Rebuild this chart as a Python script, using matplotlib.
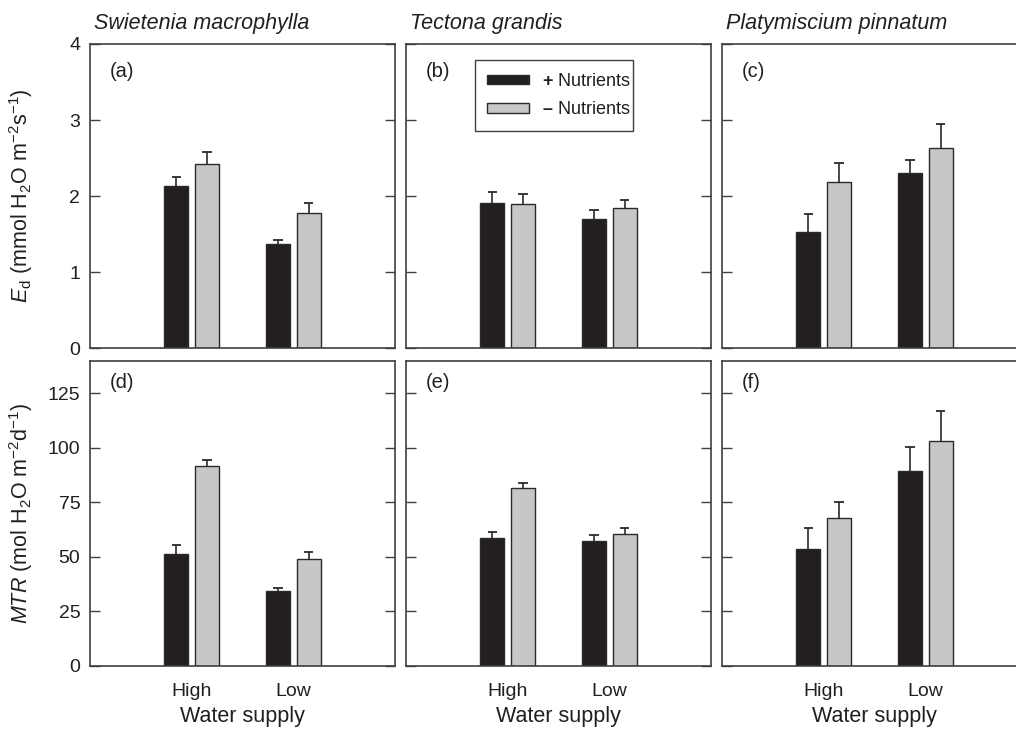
import matplotlib
matplotlib.use("Agg")
import matplotlib.pyplot as plt
from matplotlib.patches import Patch, Rectangle
import numpy as np

plt.rcParams['font.family'] = ['Liberation Sans', 'DejaVu Sans']
plt.rcParams['mathtext.fontset'] = 'custom'
plt.rcParams['mathtext.rm'] = 'Liberation Sans'
plt.rcParams['mathtext.it'] = 'Liberation Sans:italic'
plt.rcParams['mathtext.bf'] = 'Liberation Sans:bold'

species = ["Swietenia macrophylla", "Tectona grandis", "Platymiscium pinnatum"]
water = ["High", "Low"]
panel_letters = [["(a)", "(b)", "(c)"], ["(d)", "(e)", "(f)"]]

# E_d (mmol H2O m-2 s-1): [High, Low]
ed_plus = [[2.13, 1.37], [1.91, 1.70], [1.53, 2.31]]
ed_plus_err = [[0.12, 0.05], [0.15, 0.12], [0.23, 0.17]]
ed_minus = [[2.42, 1.78], [1.90, 1.84], [2.19, 2.63]]
ed_minus_err = [[0.16, 0.13], [0.13, 0.11], [0.25, 0.32]]

# MTR (mol H2O m-2 d-1): [High, Low]
mtr_plus = [[51.3, 34.2], [58.5, 57.5], [53.5, 89.5]]
mtr_plus_err = [[4.2, 1.7], [3.0, 2.5], [10.0, 11.0]]
mtr_minus = [[91.5, 49.0], [81.5, 60.5], [68.0, 103.0]]
mtr_minus_err = [[2.8, 3.4], [2.5, 3.0], [7.0, 14.0]]

ed_ticks = [0, 1, 2, 3, 4]
mtr_ticks = [0, 25, 50, 75, 100, 125]

legend_labels = ["$\\mathbf{+}$ Nutrients", "$\\mathbf{\u2013}$ Nutrients"]

BLACK = "#231f20"
GRAY = "#c6c7c9"
EDGE = "#2a2a2a"
SPINE = "#404040"
TXT = "#231f20"

W, H = 1016, 739
fig = plt.figure(figsize=(W / 100, H / 100), dpi=100)

lefts = [90, 406, 722]
pw = 305
rows = [(44, 348.3), (360.7, 666)]

x = np.arange(1, len(water) + 1)
bw = 0.236
off = 0.151
cap = 0.045


def upper_err(ax, xs, vals, errs):
    xs = np.asarray(xs, float)
    vals = np.asarray(vals, float)
    tops = vals + np.asarray(errs, float)
    ax.vlines(xs, vals, tops, colors=EDGE, linewidth=1.2, zorder=1)
    ax.hlines(tops, xs - cap, xs + cap, colors=EDGE, linewidth=1.3, zorder=1)


axes = []
for r, (ytop, ybot) in enumerate(rows):
    for c in range(3):
        ax = fig.add_axes([lefts[c] / W, 1 - ybot / H, pw / W, (ybot - ytop) / H])
        axes.append(ax)
        if r == 0:
            pv, pe, mv, me = ed_plus[c], ed_plus_err[c], ed_minus[c], ed_minus_err[c]
            ylim, yt = (0, 4), ed_ticks
        else:
            pv, pe, mv, me = mtr_plus[c], mtr_plus_err[c], mtr_minus[c], mtr_minus_err[c]
            ylim, yt = (0, 140), mtr_ticks
        ax.bar(x - off, pv, bw, color=BLACK, edgecolor=EDGE, linewidth=1.0, zorder=2)
        ax.bar(x + off, mv, bw, color=GRAY, edgecolor=EDGE, linewidth=1.0, zorder=2)
        upper_err(ax, x - off, pv, pe)
        upper_err(ax, x + off, mv, me)
        ax.set_xlim(0, 3)
        ax.set_ylim(*ylim)
        ax.set_yticks(yt)
        ax.tick_params(axis='y', direction='in', length=7, width=1.0, color=SPINE,
                       left=True, right=True, labelsize=14, labelcolor=TXT, pad=7)
        if c != 0:
            ax.tick_params(axis='y', labelleft=False)
        if r == 1:
            ax.set_xticks(x)
            ax.set_xticklabels(water)
            ax.tick_params(axis='x', length=0, labelsize=14, labelcolor=TXT, pad=12)
            ax.text(0.5, -0.165, "Water supply", transform=ax.transAxes, ha='center',
                    va='center', fontsize=15.5, color=TXT)
        else:
            ax.set_xticks([])
            ax.text(0.013, 1 + 15 / 304, species[c], transform=ax.transAxes, ha='left',
                    va='baseline', fontsize=15.5, style='italic', color=TXT)
        for s in ax.spines.values():
            s.set_color(SPINE)
            s.set_linewidth(1.2)
        ly = 0.909 if r == 0 else 0.928
        ax.text(0.066, ly, panel_letters[r][c], transform=ax.transAxes, ha='left',
                va='center', fontsize=14.5, color=TXT)

# legend in panel (b)
axb = axes[1]
bx0, bx1 = (475 - 406) / pw, (633 - 406) / pw
by1, by0 = (348.3 - 60) / 304.3, (348.3 - 131) / 304.3
axb.add_patch(Rectangle((bx0, by0), bx1 - bx0, by1 - by0, transform=axb.transAxes,
                        facecolor='white', edgecolor=SPINE, linewidth=1.0, zorder=5))
handles = [Patch(facecolor=BLACK, edgecolor=EDGE, linewidth=1.0),
           Patch(facecolor=GRAY, edgecolor=EDGE, linewidth=1.0)]
leg = axb.legend(handles, legend_labels, loc='center left',
                 bbox_to_anchor=((487 - 406) / pw, (by0 + by1) / 2),
                 borderaxespad=0, borderpad=0, fontsize=13, frameon=False,
                 handlelength=2.35, handleheight=0.45,
                 handletextpad=0.7, labelspacing=0.62)
leg.set_zorder(6)
for t in leg.get_texts():
    t.set_color(TXT)

fig.text(21 / W, 1 - 196 / H, r"$E_\mathrm{d}$ (mmol H$_2$O m$^{-2}$s$^{-1}$)",
         rotation=90, ha='center', va='center', fontsize=15.5, color=TXT)
fig.text(21 / W, 1 - 513 / H, r"$MTR$ (mol H$_2$O m$^{-2}$d$^{-1}$)",
         rotation=90, ha='center', va='center', fontsize=15.5, color=TXT)

fig.savefig("out.png", dpi=100, facecolor='white')
